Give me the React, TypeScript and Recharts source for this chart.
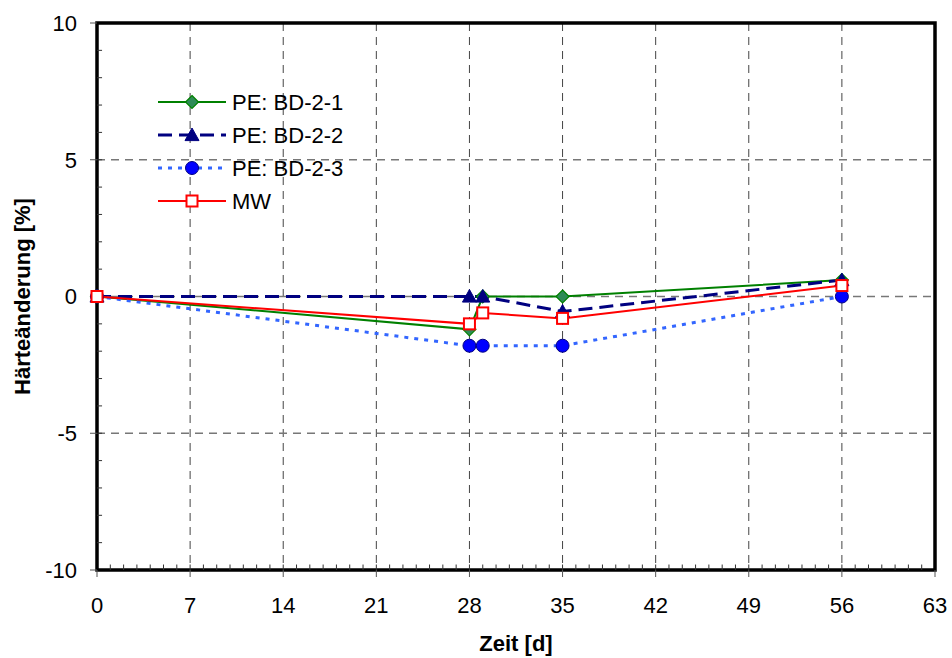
import React from 'react';
import {
  LineChart,
  Line,
  XAxis,
  YAxis,
  CartesianGrid,
  ReferenceLine,
  ReferenceArea,
} from 'recharts';

const days = [0, 28, 29, 35, 56];
const bd21 = [0, -1.2, 0, 0, 0.6];
const bd22 = [0, 0, 0, -0.55, 0.6];
const bd23 = [0, -1.8, -1.8, -1.8, 0];
const mw = [0, -1.0, -0.6, -0.8, 0.4];

const xTicks = [0, 7, 14, 21, 28, 35, 42, 49, 56, 63];
const yTicks = [-10, -5, 0, 5, 10];
const seriesNames = ['PE: BD-2-1', 'PE: BD-2-2', 'PE: BD-2-3', 'MW'];
const xTitle = 'Zeit [d]';
const yTitle = 'Härteänderung [%]';

const data = days.map((d, i) => ({ d, a: bd21[i], b: bd22[i], c: bd23[i], m: mw[i] }));

const xMinor: number[] = [];
for (let i = 1; i < 63; i++) xMinor.push(i);
const yMinor: number[] = [];
for (let j = -9; j < 10; j++) yMinor.push(j);

const FONT = '"Liberation Sans", Arial, sans-serif';

const Diamond = (p: any) => {
  const { cx, cy } = p;
  const s = 6.5;
  return (
    <path
      d={`M${cx},${cy - s} L${cx + s},${cy} L${cx},${cy + s} L${cx - s},${cy} Z`}
      fill="#2e8b57"
      stroke="#008000"
      strokeWidth={1.2}
    />
  );
};
const Triangle = (p: any) => {
  const { cx, cy } = p;
  const s = 7;
  return (
    <path
      d={`M${cx},${cy - s} L${cx + s},${cy + s * 0.8} L${cx - s},${cy + s * 0.8} Z`}
      fill="#000080"
      stroke="#000080"
      strokeWidth={1}
    />
  );
};
const Circle = (p: any) => {
  const { cx, cy } = p;
  return <circle cx={cx} cy={cy} r={6.5} fill="#0000ff" stroke="#000080" strokeWidth={1} />;
};
const Square = (p: any) => {
  const { cx, cy } = p;
  const s = 5.5;
  return (
    <rect x={cx - s} y={cy - s} width={2 * s} height={2 * s} fill="#ffffff" stroke="#ff0000" strokeWidth={2} />
  );
};

const legendStyles = [
  { color: '#008000', dash: undefined, width: 2, Mark: Diamond },
  { color: '#000080', dash: '14 7', width: 3, Mark: Triangle },
  { color: '#3366ff', dash: '4 6', width: 3, Mark: Circle },
  { color: '#ff0000', dash: undefined, width: 2, Mark: Square },
];

const YTitle = (props: any) => {
  const vb = props.viewBox || {};
  const cy = (vb.y || 0) + (vb.height || 0) / 2;
  const x = 30;
  return (
    <text
      x={x}
      y={cy}
      transform={`rotate(-90 ${x} ${cy})`}
      textAnchor="middle"
      fontFamily={FONT}
      fontWeight="bold"
      fontSize={22}
      fill="#000"
    >
      {yTitle}
    </text>
  );
};

export default function App() {
  const rowY = [102, 135, 168, 201];
  return (
    <div style={{ position: 'absolute', left: 0, top: 0, width: 952, height: 658, background: '#fff' }}>
      <LineChart
        width={952}
        height={658}
        data={data}
        margin={{ top: 23, right: 17, bottom: 0, left: 0 }}
      >
        <CartesianGrid vertical={true} horizontal={false} stroke="#444" strokeDasharray="8 6" strokeWidth={1} />
        <CartesianGrid vertical={false} horizontal={true} stroke="#777" strokeDasharray="8 6" strokeWidth={1.5} />
        <XAxis
          dataKey="d"
          type="number"
          domain={[0, 63]}
          ticks={xTicks}
          interval={0}
          height={88}
          axisLine={false}
          tickLine={{ stroke: '#555' }}
          tickSize={7}
          tickMargin={20}
          tick={{ fill: '#000', fontSize: 22, fontFamily: FONT }}
          label={{
            value: xTitle,
            position: 'insideBottom',
            offset: 7,
            fill: '#000',
            fontSize: 22,
            fontWeight: 'bold',
            fontFamily: FONT,
          }}
        />
        <YAxis
          type="number"
          domain={[-10, 10]}
          ticks={yTicks}
          interval={0}
          width={97}
          axisLine={false}
          tickLine={{ stroke: '#555' }}
          tickSize={7}
          tickMargin={13}
          tick={{ fill: '#000', fontSize: 22, fontFamily: FONT }}
          label={<YTitle />}
        />
        {xMinor.map((i) => (
          <ReferenceLine
            key={'xm' + i}
            segment={[
              { x: i, y: -10 },
              { x: i, y: -9.8 },
            ]}
            stroke="#333"
            strokeWidth={1}
          />
        ))}
        {yMinor.map((j) => (
          <ReferenceLine
            key={'ym' + j}
            segment={[
              { x: 0, y: j },
              { x: 0.38, y: j },
            ]}
            stroke="#333"
            strokeWidth={1}
          />
        ))}
        <ReferenceArea x1={0} x2={63} y1={-10} y2={10} fill="none" stroke="#000" strokeWidth={3.5} />
        <Line
          dataKey="a"
          stroke="#008000"
          strokeWidth={2}
          dot={<Diamond />}
          activeDot={false}
          isAnimationActive={false}
        />
        <Line
          dataKey="b"
          stroke="#000080"
          strokeWidth={3}
          strokeDasharray="14 7"
          dot={<Triangle />}
          activeDot={false}
          isAnimationActive={false}
        />
        <Line
          dataKey="c"
          stroke="#3366ff"
          strokeWidth={3}
          strokeDasharray="4 6"
          dot={<Circle />}
          activeDot={false}
          isAnimationActive={false}
        />
        <Line
          dataKey="m"
          stroke="#ff0000"
          strokeWidth={2}
          dot={<Square />}
          activeDot={false}
          isAnimationActive={false}
        />
      </LineChart>
      <svg
        width={400}
        height={240}
        style={{ position: 'absolute', left: 0, top: 0, pointerEvents: 'none' }}
      >
        {seriesNames.map((name, i) => {
          const st = legendStyles[i];
          const Mark = st.Mark;
          const y = rowY[i];
          return (
            <g key={name}>
              <line
                x1={158}
                x2={226}
                y1={y}
                y2={y}
                stroke={st.color}
                strokeWidth={st.width}
                strokeDasharray={st.dash}
              />
              <Mark cx={192} cy={y} />
              <text x={232} y={y + 8} fontFamily={FONT} fontSize={22} fill="#000">
                {name}
              </text>
            </g>
          );
        })}
      </svg>
    </div>
  );
}
